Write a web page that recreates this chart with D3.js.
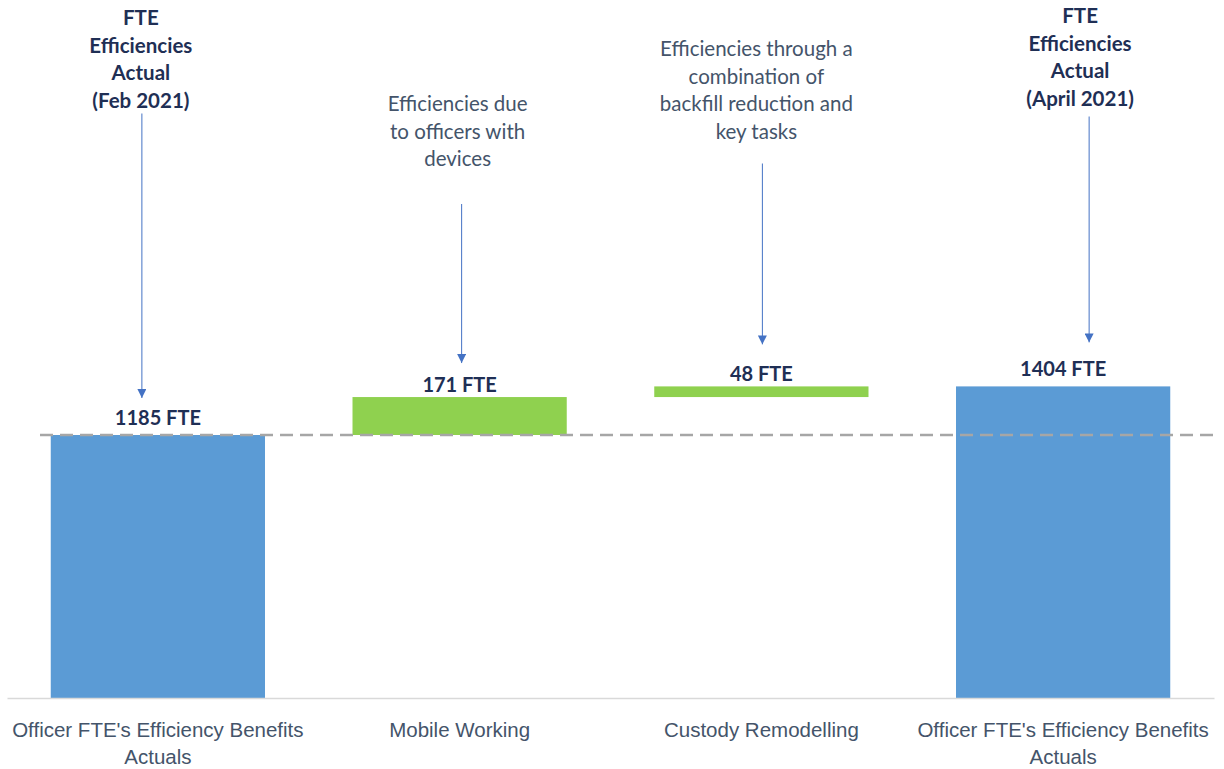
<!DOCTYPE html>
<html>
<head>
<meta charset="utf-8">
<script src="https://cdn.jsdelivr.net/npm/d3@7"></script>
<style>
    body { margin: 0; background: #fff; }
    svg { display: block; font-family: Lato, "Open Sans", sans-serif; }
</style>
</head>
<body>
<div id="chart"></div>
<script>
// categories (two lines each)
const categories = [
    ["Officer FTE's Efficiency Benefits", "Actuals"],
    ["Mobile Working"],
    ["Custody Remodelling"],
    ["Officer FTE's Efficiency Benefits", "Actuals"]
];
// waterfall steps: totals start at 0, deltas stack on the running total
const values = [1185, 171, 48, 1404];
const kinds = ['total', 'delta', 'delta', 'total'];
const valueLabels = ['1185 FTE', '171 FTE', '48 FTE', '1404 FTE'];
const notes = [
    ['FTE', 'Efficiencies', 'Actual', '(Feb 2021)'],
    ['Efficiencies due', 'to officers with', 'devices'],
    ['Efficiencies through a', 'combination of', 'backfill reduction and', 'key tasks'],
    ['FTE', 'Efficiencies', 'Actual', '(April 2021)']
];
const noteBold = [true, false, false, true];

const width = 1224, height = 769;
const colors = { total: '#5b9bd5', delta: '#8fd14f' };
const navy = '#1f2f55';
const slate = '#44546a';

const svg = d3.select('#chart').append('svg')
    .attr('width', width)
    .attr('height', height)
    .attr('viewBox', [0, 0, width, height]);

// arrowhead drawn along +x, orient=auto turns it to follow the line
svg.append('defs').append('marker')
    .attr('id', 'arrow')
    .attr('viewBox', '0 0 10 10')
    .attr('refX', 10).attr('refY', 5)
    .attr('markerWidth', 9).attr('markerHeight', 9)
    .attr('markerUnits', 'userSpaceOnUse')
    .attr('orient', 'auto')
    .append('path')
    .attr('d', 'M0,0 L10,5 L0,10 Z')
    .attr('fill', '#4472c4');

// running totals
let running = 0;
const bars = values.map((v, i) => {
    let y0, y1;
    if (kinds[i] === 'total') { y0 = 0; y1 = v; running = v; }
    else { y0 = running; y1 = running + v; running = y1; }
    return { i, y0, y1, kind: kinds[i] };
});

const x = d3.scaleBand()
    .domain(d3.range(categories.length))
    .range([7, 1214])
    .paddingInner(0.29)
    .paddingOuter(0.145);

const y = d3.scaleLinear()
    .domain([0, 1404])
    .range([698, 386.4]);

// bars
svg.append('g')
    .selectAll('rect')
    .data(bars)
    .join('rect')
    .attr('x', d => x(d.i))
    .attr('width', x.bandwidth())
    .attr('y', d => y(d.y1))
    .attr('height', d => y(d.y0) - y(d.y1))
    .attr('fill', d => colors[d.kind]);

// dashed reference line at first total
svg.append('line')
    .attr('x1', 40).attr('x2', 1214)
    .attr('y1', y(values[0])).attr('y2', y(values[0]))
    .attr('stroke', '#a6a6a6')
    .attr('stroke-width', 2.5)
    .attr('stroke-dasharray', '13 7');

// x axis
const xAxis = svg.append('g')
    .attr('transform', `translate(0,${y(0)})`)
    .call(d3.axisBottom(x).tickSize(0).tickFormat(''));
xAxis.select('.domain').attr('stroke', '#d9d9d9').attr('stroke-width', 1.5);
xAxis.selectAll('.tick text').remove();
xAxis.selectAll('.tick')
    .append('text')
    .attr('fill', slate)
    .attr('font-size', 20.5)
    .attr('text-anchor', 'middle')
    .selectAll('tspan')
    .data(i => categories[i])
    .join('tspan')
    .attr('x', 0)
    .attr('y', (d, j) => 39 + j * 27)
    .text(d => d);

// value labels
svg.append('g')
    .selectAll('text')
    .data(bars)
    .join('text')
    .attr('x', d => x(d.i) + x.bandwidth() / 2)
    .attr('y', d => y(d.y1) - (d.kind === 'total' ? 10.5 : 5.5))
    .attr('text-anchor', 'middle')
    .attr('font-size', 20)
    .attr('font-weight', 'bold')
    .attr('fill', navy)
    .text(d => valueLabels[d.i]);

// annotations with arrows
const noteDx = [-17, -2, -5, 17];
const arrowDx = [-16, 2, 1, 26];
const noteTop = [25, 111, 56, 23];
const arrowStart = [6, 38, 25, 11];
const arrowGap = [37, 34, 42, 44];
notes.forEach((lines, i) => {
    const cx = x(i) + x.bandwidth() / 2;
    const g = svg.append('g');
    g.append('text')
        .attr('text-anchor', 'middle')
        .attr('font-size', 20.5)
        .attr('font-weight', noteBold[i] ? 'bold' : 'normal')
        .attr('fill', noteBold[i] ? navy : slate)
        .selectAll('tspan')
        .data(lines)
        .join('tspan')
        .attr('x', cx + noteDx[i])
        .attr('y', (d, j) => noteTop[i] + j * 27.5)
        .text(d => d);
    const lastY = noteTop[i] + (lines.length - 1) * 27.5;
    const ax = cx + arrowDx[i];
    g.append('line')
        .attr('x1', ax).attr('x2', ax)
        .attr('y1', lastY + arrowStart[i])
        .attr('y2', y(bars[i].y1) - arrowGap[i])
        .attr('stroke', '#4472c4')
        .attr('stroke-width', 1)
        .attr('marker-end', 'url(#arrow)');
});
</script>
</body>
</html>
